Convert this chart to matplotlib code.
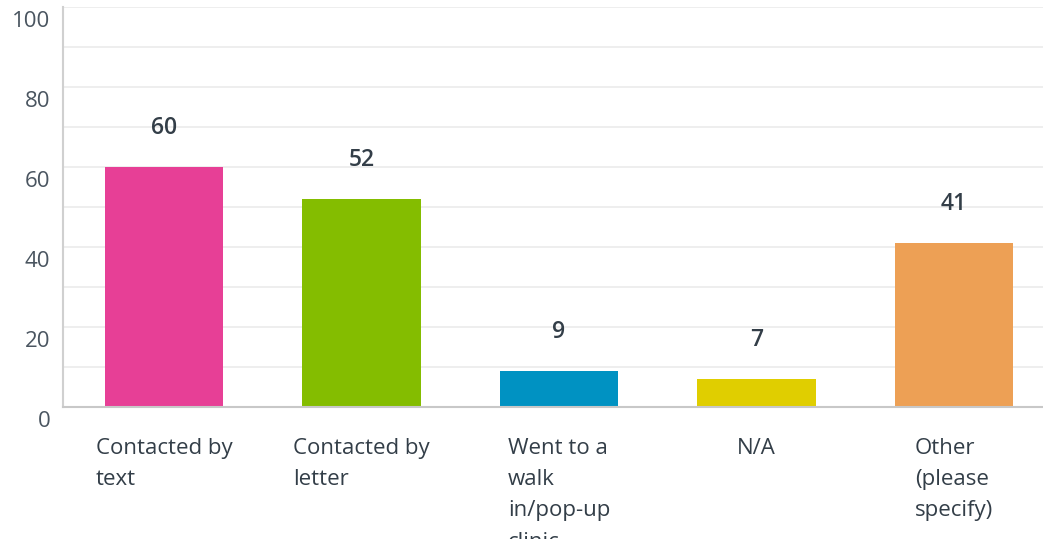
import numpy as np
import matplotlib
matplotlib.use('Agg')
import matplotlib.pyplot as plt
from matplotlib.transforms import ScaledTranslation

# Chart data
categories = ['Contacted by\ntext', 'Contacted by\nletter', 'Went to a\nwalk\nin/pop-up\nclinic',
              'N/A', 'Other\n(please\nspecify)']
values = [60, 52, 9, 7, 41]
colors = ['#e73f96', '#84bd00', '#0092c2', '#e0ce00', '#eda055']
y_ticks = [0, 20, 40, 60, 80, 100]

plt.rcParams['font.family'] = ['Open Sans', 'DejaVu Sans']
text_color = '#333e48'

fig = plt.figure(figsize=(10.43, 5.39), dpi=100)
ax = fig.add_axes([0.0604, 0.2449, 0.9396, 0.7421])

x = np.arange(len(categories))
ax.bar(x, values, width=0.6, color=colors, zorder=2)

# value labels above bars
for xi, v in zip(x, values):
    ax.annotate(str(v), (xi, v), xytext=(0, 28), textcoords='offset points',
                ha='center', va='center', fontsize=16.5, fontweight='semibold', color=text_color)

ax.set_xlim(-0.511, 4.45)
ax.set_ylim(0, 100)

ax.set_yticks(y_ticks)
ax.set_yticks(np.arange(10, 100, 20), minor=True)
ax.grid(True, axis='y', which='both', color='#ebebeb', linewidth=1.2, zorder=0)
ax.tick_params(axis='y', which='both', length=0, pad=9, labelsize=16, labelcolor='#4a5560')
for lab in ax.get_yticklabels():
    lab.set_transform(lab.get_transform() + ScaledTranslation(0, -0.12, fig.dpi_scale_trans))

ax.set_xticks(x)
ax.set_xticklabels(categories, fontsize=16, color=text_color, linespacing=1.65,
                   multialignment='left', va='top')
ax.tick_params(axis='x', length=0, pad=22)

for side in ['top', 'right']:
    ax.spines[side].set_visible(False)
ax.spines['left'].set_color('#d0d0d0')
ax.spines['left'].set_linewidth(1.5)
ax.spines['bottom'].set_color('#c8c8c8')
ax.spines['bottom'].set_linewidth(1.5)

fig.savefig('out.png', dpi=100)
